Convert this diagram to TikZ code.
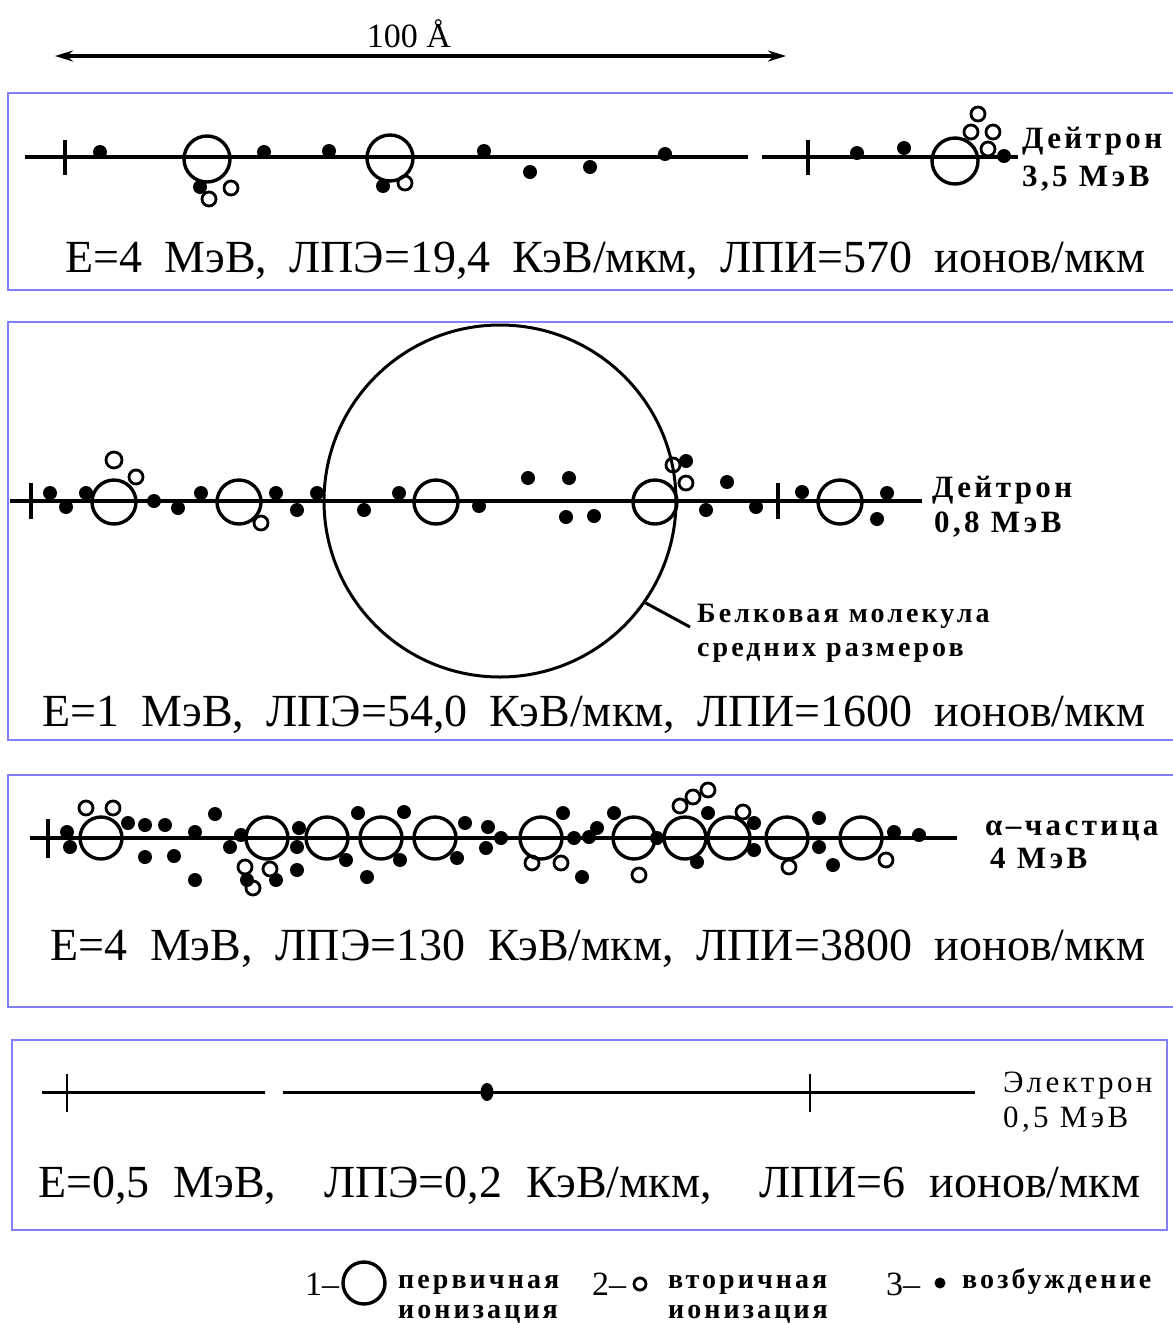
\documentclass[tikz,border=0pt]{standalone}
\usepackage{fontspec}
\setmainfont{Liberation Serif}
\newfontfamily\lblf{Liberation Serif}[LetterSpace=11]
\usetikzlibrary{arrows.meta}

\definecolor{panelblue}{RGB}{128,128,255}
\newcommand\gp{\hspace{8pt plus 1fil}}

\tikzset{
  panel/.style={draw=panelblue, line width=1.8pt},
  track/.style={line width=3.6pt},
  tickmark/.style={line width=3.2pt},
  pri/.style={line width=3.4pt},
  sec/.style={line width=2.8pt},
  stat/.style={font=\fontsize{46}{52}\selectfont, anchor=base west, inner sep=0pt},
  lbl/.style={font=\lblf\bfseries\fontsize{31}{34}\selectfont, anchor=base west, inner sep=0pt},
  lblthin/.style={font=\lblf\fontsize{31}{34}\selectfont, anchor=base west, inner sep=0pt},
  legend/.style={font=\lblf\bfseries\fontsize{28}{30}\selectfont, anchor=base west, inner sep=0pt},
}

\begin{document}
\begin{tikzpicture}[x=1pt,y=-1pt]
\useasboundingbox (0,0) rectangle (1173,1323);

% ---- scale bar ----
\coordinate (sL) at (55,56);
\coordinate (sR) at (786,56);
\draw[line width=3.4pt, {Stealth[length=18pt,width=11pt]}-{Stealth[length=18pt,width=11pt]}] (sL) -- (sR);
\node[font=\fontsize{34}{38}\selectfont, anchor=base, inner sep=0pt] (scale) at (409,47) {100 Å};

% ---- panel frames ----
\draw[panel] (1173,93) -- (8,93) -- (8,290) -- (1173,290);
\draw[panel] (1173,322) -- (8,322) -- (8,740) -- (1173,740);
\draw[panel] (1173,775) -- (8,775) -- (8,1007) -- (1173,1007);
\draw[panel] (12,1040) rectangle (1167,1230);

% ================= panel 1: deuteron 3.5 MeV =================
\coordinate (a1) at (25,157);
\coordinate (a2) at (748,157);
\coordinate (a3) at (762,157);
\coordinate (a4) at (1018,157);
\draw[track] (a1) -- (a2);
\draw[track] (a3) -- (a4);
\foreach \x in {65,808} \draw[tickmark] (\x,140) -- (\x,175);
\foreach \x/\y in {207/159,390/158,955/161} \draw[pri] (\x,\y) circle[radius=23pt];
\foreach \x/\y in {209/199,231/188,405/183,978/114,971/132,993/132,988/149}
  \draw[sec] (\x,\y) circle[radius=7pt];
\foreach \x/\y in {100/152,264/152,329/151,484/151,530/172,590/167,665/154,857/153,904/148,1004/156,200/187,383/186}
  \fill (\x,\y) circle[radius=7pt];
\node[lbl] (d1a) at (1022,148) {Дейтрон};
\node[lbl] (d1b) at (1022,186) {3,5 МэВ};
\node[stat] (st1) at (65,272) {\makebox[1080pt][s]{E=4\gp МэВ,\gp ЛПЭ=19,4\gp КэВ/мкм,\gp ЛПИ=570\gp ионов/мкм}};

% ================= panel 2: deuteron 0.8 MeV =================
\node[circle, draw, line width=3pt, minimum size=352pt, inner sep=0pt] (mol) at (500,501) {};
\coordinate (b1) at (10,501);
\coordinate (b2) at (922,501);
\draw[track] (b1) -- (b2);
\foreach \x in {31,778} \draw[tickmark] (\x,483) -- (\x,519);
\foreach \x/\y in {114/502,239/502,436/502,655/502,840/502} \draw[pri] (\x,\y) circle[radius=22pt];
\draw[sec] (114,460) circle[radius=8pt];
\foreach \x/\y in {136/477,261/523,673/465,686/483} \draw[sec] (\x,\y) circle[radius=7pt];
\foreach \x/\y in {50/493,66/507,86/493,154/501,178/508,201/493,276/493,297/510,317/493,364/510,399/493,479/506,528/478,569/478,566/517,594/516,686/461,706/510,727/482,756/507,802/492,887/493,877/519}
  \fill (\x,\y) circle[radius=7pt];
\node[lbl] (d2a) at (932,497) {Дейтрон};
\node[lbl] (d2b) at (934,532) {0,8 МэВ};
\node[lbl, font=\lblf\bfseries\fontsize{28}{32}\selectfont] (mola) at (697,622) {Белковая молекула};
\node[lbl, font=\lblf\bfseries\fontsize{28}{32}\selectfont] (molb) at (697,656) {средних размеров};
\coordinate (lead) at (690,627);
\draw[line width=3pt] (mol.-35) -- (lead);
\node[stat] (st2) at (42,726) {\makebox[1103pt][s]{E=1\gp МэВ,\gp ЛПЭ=54,0\gp КэВ/мкм,\gp ЛПИ=1600\gp ионов/мкм}};

% ================= panel 3: alpha particle 4 MeV =================
\coordinate (c1) at (30,838);
\coordinate (c2) at (957,838);
\draw[track] (c1) -- (c2);
\draw[tickmark] (48,819) -- (48,858);
\foreach \x in {101,267,327,381,435,541,634,685,729,787,861} \draw[pri] (\x,838) circle[radius=21pt];
\foreach \x/\y in {86/808,113/808,245/867,253/888,270/869,532/863,561/863,639/875,680/806,693/797,708/790,743/812,789/867,886/860}
  \draw[sec] (\x,\y) circle[radius=7pt];
\foreach \x/\y in {67/832,70/847,128/823,145/825,165/825,145/857,174/856,195/832,195/880,215/814,230/847,241/835,247/880,276/880,297/870,299/828,297/847,358/813,346/860,367/877,404/812,400/860,465/823,457/858,488/827,486/848,501/838,563/813,582/877,574/838,589/837,597/828,614/813,657/838,697/862,708/813,754/823,754/850,819/818,819/847,833/865,894/832,919/835}
  \fill (\x,\y) circle[radius=7pt];
\node[lbl] (a3a) at (985,835) {α–частица};
\node[lbl] (a3b) at (990,868) {4 МэВ};
\node[stat] (st3) at (50,960) {\makebox[1095pt][s]{E=4\gp МэВ,\gp ЛПЭ=130\gp КэВ/мкм,\gp ЛПИ=3800\gp ионов/мкм}};

% ================= panel 4: electron 0.5 MeV =================
\coordinate (e1) at (42,1092);
\coordinate (e2) at (265,1092);
\coordinate (e3) at (283,1092);
\coordinate (e4) at (975,1092);
\draw[track, line width=3pt] (e1) -- (e2);
\draw[track, line width=3pt] (e3) -- (e4);
\foreach \x in {67,810} \draw[tickmark, line width=2.8pt] (\x,1074) -- (\x,1112);
\fill (487,1092) ellipse[x radius=6.5pt, y radius=9pt];
\node[lblthin] (e4a) at (1003,1092) {Электрон};
\node[lblthin] (e4b) at (1003,1127) {0,5 МэВ};
\node[stat] (st4) at (38,1197) {\makebox[1102pt][s]{E=0,5\gp МэВ,\gp\gp ЛПЭ=0,2\gp КэВ/мкм,\gp\gp ЛПИ=6\gp ионов/мкм}};

% ================= legend =================
\node[stat, font=\fontsize{34}{36}\selectfont] (k1) at (305,1295) {1–};
\draw[line width=3.4pt] (364,1283) circle[radius=21pt];
\node[legend] (k1a) at (398,1288) {первичная};
\node[legend] (k1b) at (398,1318) {ионизация};
\node[stat, font=\fontsize{34}{36}\selectfont] (k2) at (592,1295) {2–};
\draw[sec] (640,1284) circle[radius=6pt];
\node[legend] (k2a) at (668,1288) {вторичная};
\node[legend] (k2b) at (668,1318) {ионизация};
\node[stat, font=\fontsize{34}{36}\selectfont] (k3) at (886,1295) {3–};
\fill (940,1283) circle[radius=5.5pt];
\node[legend] (k3a) at (962,1288) {возбуждение};
\end{tikzpicture}
\end{document}
